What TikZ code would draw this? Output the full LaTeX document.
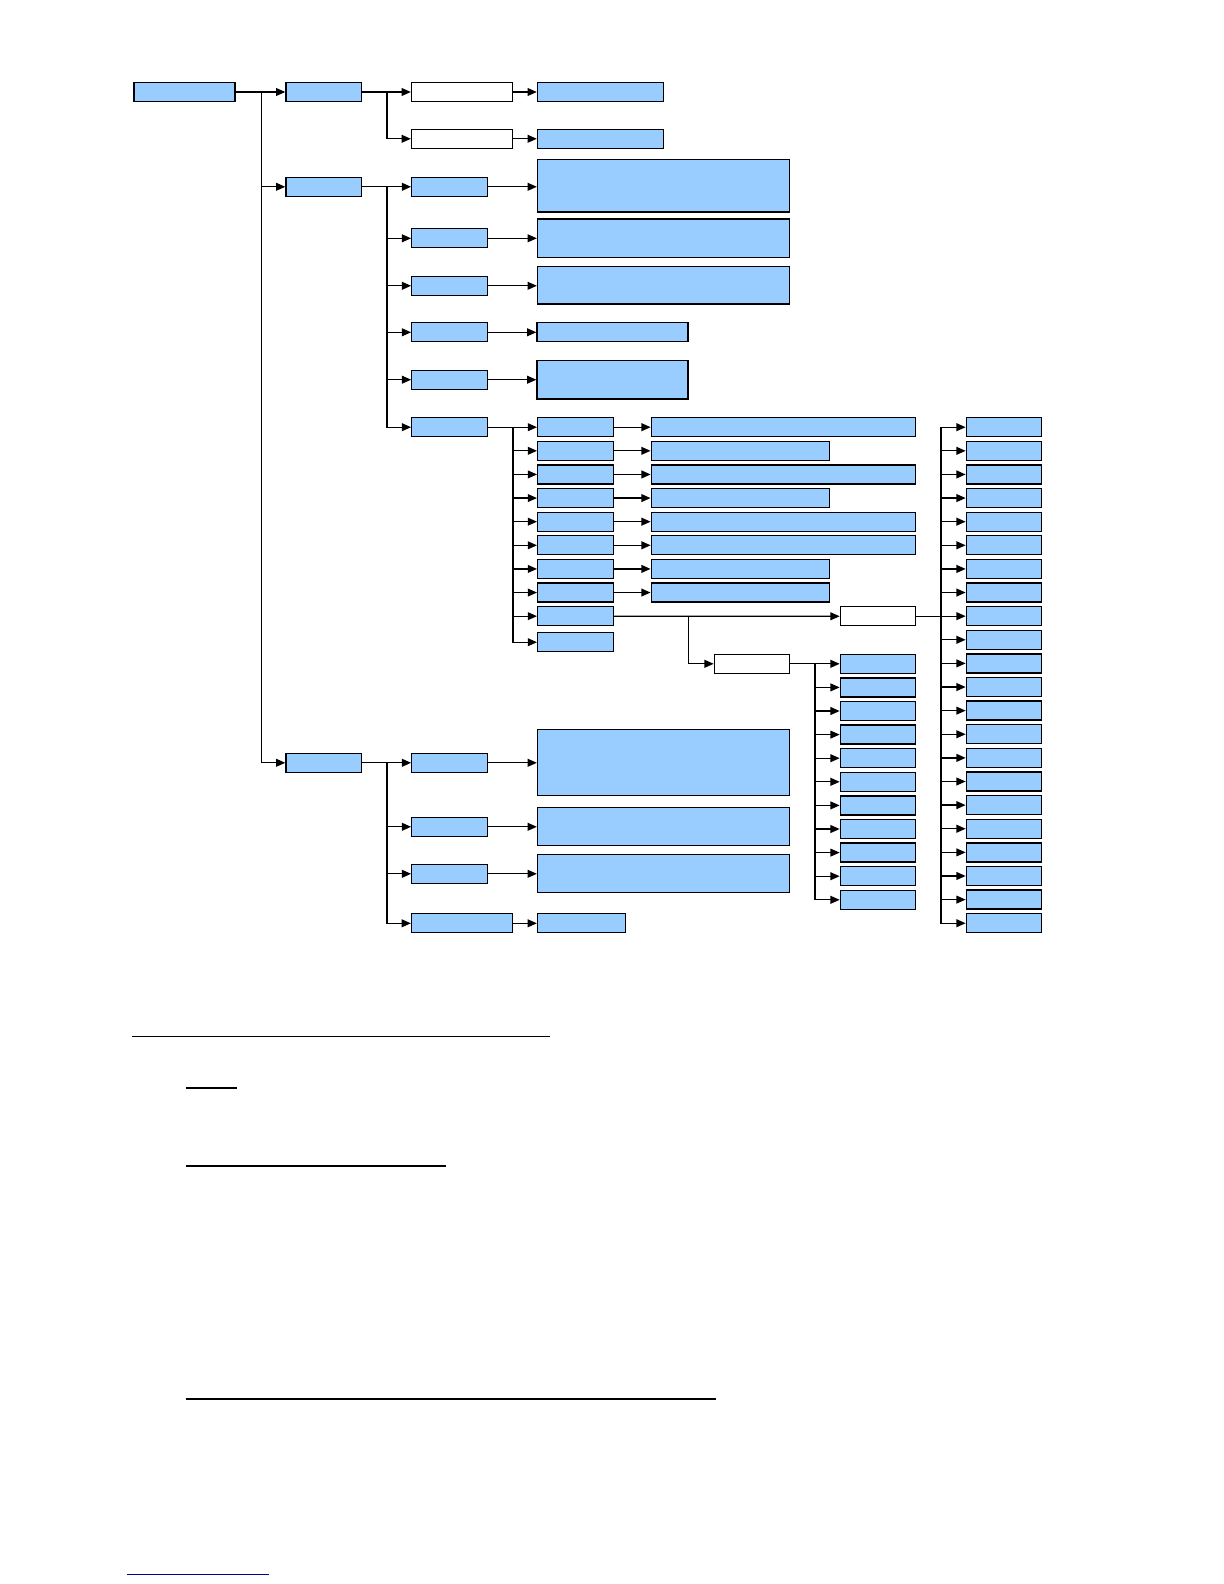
\documentclass[tikz,border=0pt]{standalone}
\usepackage{tikz}
\usetikzlibrary{positioning, arrows.meta}

\definecolor{boxblue}{RGB}{153,204,255}
\definecolor{linkblue}{RGB}{0,0,153}

\begin{document}
\begin{tikzpicture}[
    x=0.5pt, y=-0.5pt,
    box/.style={rectangle, draw, fill=boxblue, line width=0.65pt, inner sep=0pt, minimum height=9.5pt, minimum width=37.75pt},
    wbox/.style={box, fill=white},
    arr/.style={-{Triangle[length=4.6pt, width=3.9pt]}, line width=0.65pt},
    rule/.style={line width=1pt},
]
\useasboundingbox (0,0) rectangle (1224,1584);

% top level
\node[box, minimum width=50.5pt] (root) at (184.5,92) {};
\node[box] (grpA) at (323.7,92) {};
\node[box] (grpB) at (323.7,186.8) {};
\node[box] (grpC) at (323.7,762.8) {};

\draw[arr] (root) -- (grpA);
\draw[arr] (root.east) -- ++(25.5,0) |- (grpB);
\draw[arr] (root.east) -- ++(25.5,0) |- (grpC);

% group A
\node[wbox, minimum width=50.5pt] (a1) at (462,92) {};
\node[wbox, minimum width=50.5pt] (a2) at (462,138.8) {};
\node[box, minimum width=62.85pt] (a1r) at (600.3,92) {};
\node[box, minimum width=62.85pt] (a2r) at (600.3,138.8) {};

\draw[arr] (grpA) -- (a1);
\draw[arr] (grpA.east) -- ++(25,0) |- (a2);
\draw[arr] (a1) -- (a1r);
\draw[arr] (a2) -- (a2r);

% group B
\node[box] (b1) at (449.5,186.8) {};
\node[box] (b2) at (449.5,238.3) {};
\node[box] (b3) at (449.5,285.8) {};
\node[box] (b4) at (449.5,332.3) {};
\node[box] (b5) at (449.5,379.7) {};
\node[box] (b6) at (449.5,427.2) {};

\node[box, minimum width=125.9pt, minimum height=26.2pt] (b1r) at (663.4,185.8) {};
\node[box, minimum width=125.9pt, minimum height=19.25pt] (b2r) at (663.4,238.3) {};
\node[box, minimum width=125.9pt, minimum height=18.7pt] (b3r) at (663.4,285.3) {};
\node[box, minimum width=75.5pt] (b4r) at (612.5,332.3) {};
\node[box, minimum width=75.5pt, minimum height=19.25pt] (b5r) at (612.5,379.8) {};

\draw[arr] (grpB) -- (b1);
\foreach \i in {2,...,6}
  \draw[arr] (grpB.east) -- ++(25,0) |- (b\i);
\foreach \i in {1,...,5}
  \draw[arr] (b\i.east) -- (b\i.east -| b\i r.west);

% sub list under b6
\foreach \i in {1,...,9}
  \node[box] (s\i) at (575.4,{427.2+23.62*(\i-1)}) {};
\node[box] (s10) at (575.4,642.2) {};

\foreach \i/\w/\cx in {1/132/783.3, 2/89/740.2, 3/132/783.3, 4/89/740.2,
                       5/132/783.3, 6/132/783.3, 7/89/740.2, 8/89/740.2}
  \node[box, minimum width=\w pt] (t\i) at (\cx,{427.2+23.62*(\i-1)}) {};

\draw[arr] (b6) -- (s1);
\foreach \i in {2,...,10}
  \draw[arr] (b6.east) -- ++(25,0) |- (s\i);
\foreach \i in {1,...,8}
  \draw[arr] (s\i) -- (t\i);

% white splitters
\node[wbox, minimum width=37.5pt] (w1) at (877.8,616.3) {};
\node[wbox, minimum width=37.7pt] (w2) at (752,663.8) {};

\draw[arr] (s9) -- (w1);
\draw[arr] (s9.east) -- ++(74.8,0) |- (w2);

\foreach \i in {1,...,11}
  \node[box, minimum width=37.5pt] (d\i) at (877.8,{663.8+23.6*(\i-1)}) {};
\draw[arr] (w2) -- (d1);
\foreach \i in {2,...,11}
  \draw[arr] (w2.east) -- ++(24.6,0) |- (d\i);

\foreach \i in {0,...,21}
  \node[box, minimum width=37.5pt] (e\i) at (1003.8,{427.2+23.62*\i}) {};
\foreach \i in {0,...,21}
  \draw[arr] (w1.east) -- ++(25,0) |- (e\i);

% group C
\node[box] (k1) at (449.5,762.8) {};
\node[box] (k2) at (449.5,826.8) {};
\node[box] (k3) at (449.5,873.8) {};
\node[box, minimum width=50.5pt] (k4) at (462,923.3) {};

\node[box, minimum width=125.9pt, minimum height=33pt] (k1r) at (663.4,762.3) {};
\node[box, minimum width=125.9pt, minimum height=19pt] (k2r) at (663.4,826.3) {};
\node[box, minimum width=125.9pt, minimum height=19pt] (k3r) at (663.4,873.3) {};
\node[box, minimum width=44pt] (k4r) at (581.5,923.3) {};

\draw[arr] (grpC) -- (k1);
\foreach \i in {2,...,4}
  \draw[arr] (grpC.east) -- ++(25,0) |- (k\i);
\foreach \i in {1,...,4}
  \draw[arr] (k\i.east) -- (k\i.east -| k\i r.west);

% rules below the chart
\draw[line width=0.5pt] (132,1036) -- (550.4,1036);
\draw[rule] (185.7,1088) -- (237.2,1088);
\draw[rule] (185.7,1165.7) -- (445.5,1165.7);
\draw[rule] (185.7,1398.7) -- (716,1398.7);
\draw[linkblue, line width=0.5pt] (127.3,1574.7) -- (269,1574.7);

\end{tikzpicture}
\end{document}
